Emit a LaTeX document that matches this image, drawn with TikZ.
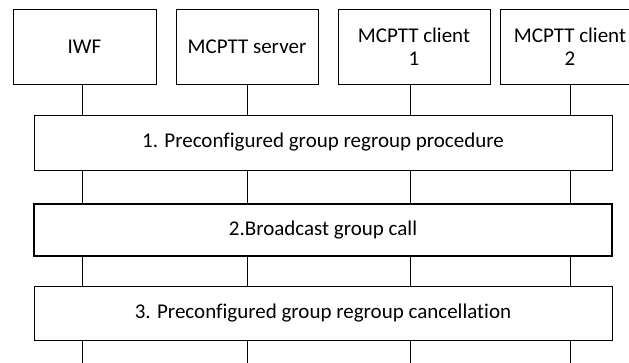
\documentclass[tikz,border=0pt]{standalone}
\usepackage{fontspec}
\setmainfont[RawFeature={-liga}]{Carlito}
\begin{document}
\begin{tikzpicture}[x=1pt,y=-1pt,line width=0.8pt,
  entity/.style={draw,minimum height=75pt,inner sep=1pt,align=center,
    font=\fontsize{21}{23}\selectfont},
  phase/.style={draw,fill=white,minimum width=578pt,minimum height=55pt,
    font=\fontsize{21}{23}\selectfont}]
\useasboundingbox (0,0) rectangle (629,363);
\node[entity,minimum width=143pt] (iwf) at (84.5,46.5) {IWF};
\node[entity,minimum width=142pt] (srv) at (247,46.5) {MCPTT server};
\node[entity,minimum width=152pt] (cl1) at (414,46.5) {MCPTT client\\1};
\node[entity,minimum width=140pt] (cl2) at (570,46.5) {MCPTT client\\2};
\foreach \e/\x in {iwf/82,srv/247,cl1/410,cl2/570}{
  \coordinate (\e end) at (\x,363);
  \draw (\e.south -| \e end) -- (\e end);
}
\node[phase] (regroup) at (323,142.5) {1. Preconfigured group regroup procedure};
\node[phase,minimum height=52pt,line width=2pt] (call) at (323,230) {2.Broadcast group call};
\node[phase,minimum height=54pt] (cancel) at (323,313) {3. Preconfigured group regroup cancellation};
\end{tikzpicture}
\end{document}
